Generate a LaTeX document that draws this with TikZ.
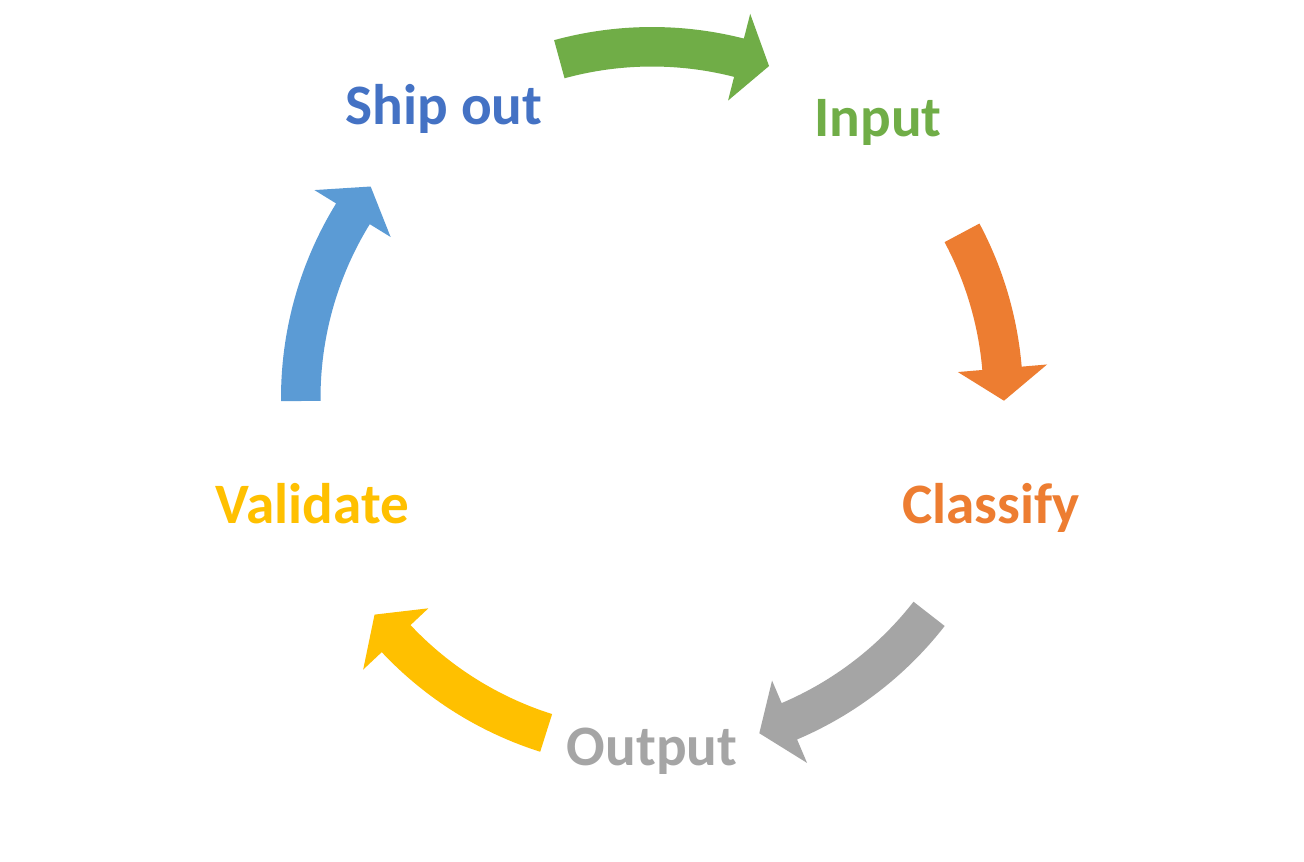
\documentclass[tikz,border=0pt]{standalone}
\usepackage{fontspec}
\setmainfont{Carlito}
\definecolor{cgreen}{HTML}{70AD47}
\definecolor{corange}{HTML}{ED7D31}
\definecolor{cgray}{HTML}{A5A5A5}
\definecolor{cyellow}{HTML}{FFC000}
\definecolor{cblue}{HTML}{5B9BD5}
\definecolor{cdblue}{HTML}{4472C4}
\tikzset{
  lbl/.style={anchor=base, inner sep=0pt, font=\fontsize{28.6}{34}\selectfont\bfseries},
}
% arc arrow: #1 colour, #2 tail angle, #3 head base angle, #4 tip angle
\newcommand{\arcarrow}[4]{%
  \fill[#1] (#2:371) arc[start angle=#2, end angle=#3, radius=371]
    -- (#3:396.5) -- (#4:352) -- (#3:307) -- (#3:331.5)
    arc[start angle=#3, end angle=#2, radius=331.5] -- cycle;}
\begin{document}
\begin{tikzpicture}[x=0.5pt, y=-0.5pt]
\useasboundingbox (0,0) rectangle (1304,861);
\fill[white] (0,0) rectangle (1304,861);
\begin{scope}[shift={(652,398)}, yscale=-1]
  \arcarrow{cgreen}{105.3}{75.66}{70.58}
  \arcarrow{corange}{28.05}{4.85}{-0.44}
  \arcarrow{cgray}{-37.92}{-66.98}{-72.25}
  \arcarrow{cyellow}{252.46}{223.24}{217.98}
  \arcarrow{cblue}{180.49}{148.37}{143.07}
\end{scope}
\node[lbl, text=cdblue] (ship) at (444,125) {Ship out};
\node[lbl, text=cgreen] (input) at (878,136.7) {Input};
\node[lbl, text=corange] (classify) at (991,523.3) {Classify};
\node[lbl, text=cgray] (output) at (652,765.5) {Output};
\node[lbl, text=cyellow] (validate) at (312.5,523.3) {Validate};
\end{tikzpicture}
\end{document}
